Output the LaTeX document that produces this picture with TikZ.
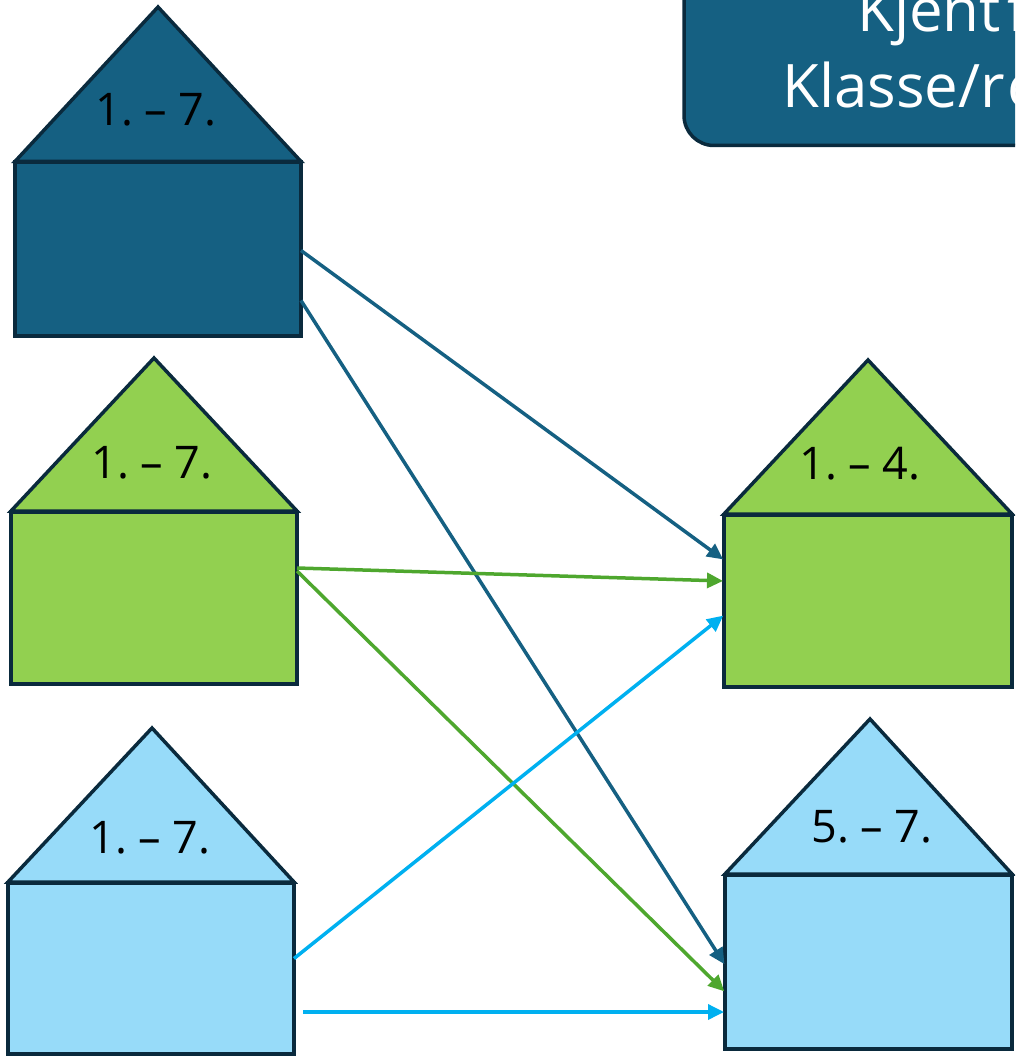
\documentclass[tikz,border=0pt]{standalone}
\usepackage{fontspec}
\setmainfont{Open Sans}
\usetikzlibrary{positioning, arrows.meta}
\definecolor{darkhouse}{HTML}{156082}
\definecolor{greenhouse}{HTML}{92D050}
\definecolor{lighthouse}{HTML}{97DBF9}
\definecolor{houseline}{HTML}{0A2A3D}
\definecolor{greenline}{HTML}{4EA72E}
\definecolor{lightline}{HTML}{00B0F0}
\newcommand{\yeargap}{\hspace{11.5pt}}
\tikzset{
	body/.style={draw=houseline, rectangle, line width=4pt, minimum width=#1, outer sep=0pt, inner sep=0pt},
	roof/.style={draw=houseline, line width=3.5pt, line join=miter},
	years/.style={font=\fontsize{45}{45}\selectfont, text=black, inner sep=0pt},
	heading/.style={font=\fontsize{60}{60}\selectfont, text=white, anchor=base west, inner sep=0pt},
	link/.style={line width=3.5pt, -{Triangle[length=16pt, width=15pt]}, shorten >=1pt}
}
\begin{document}
\begin{tikzpicture}[x=1pt, y=-1pt]
		\clip[use as bounding box] (0,0) rectangle (1015,1056);
		%header
		\node[draw=houseline, rectangle, line width=3.5pt, rounded corners=30pt, fill=darkhouse, minimum width=500pt, minimum height=250pt, anchor=south west, outer sep=0pt] (header) at (684,145.5) {};
		\node[heading] (line1) at (857,32) {Kjent\hspace{7pt}f};
		\node[heading] (line2) at (782,108) {Klasse/r\kern3pt e};
		%houses
		\node[body=286pt, minimum height=173pt, fill=darkhouse] (dark) at (158,249) {};
		\node[body=286pt, minimum height=172pt, fill=greenhouse] (green) at (154,598) {};
		\node[body=286pt, minimum height=171pt, fill=lighthouse] (light) at (151,968.5) {};
		\node[body=288pt, minimum height=172pt, fill=greenhouse] (greenR) at (868,601) {};
		\node[body=287pt, minimum height=174pt, fill=lighthouse] (lightR) at (868.5,962) {};
		\coordinate (darkTop) at (158,7);
		\coordinate (greenTop) at (154,358);
		\coordinate (lightTop) at (152,728);
		\coordinate (greenRTop) at (868,360);
		\coordinate (lightRTop) at (870,719);
		\draw[roof, fill=darkhouse] ([yshift=1pt]dark.north west) -- (darkTop) -- ([yshift=1pt]dark.north east) -- cycle;
		\draw[roof, fill=greenhouse] ([yshift=1pt]green.north west) -- (greenTop) -- ([yshift=1pt]green.north east) -- cycle;
		\draw[roof, fill=lighthouse] ([yshift=1pt]light.north west) -- (lightTop) -- ([yshift=1pt]light.north east) -- cycle;
		\draw[roof, fill=greenhouse] ([yshift=1pt]greenR.north west) -- (greenRTop) -- ([yshift=1pt]greenR.north east) -- cycle;
		\draw[roof, fill=lighthouse] ([yshift=1pt]lightR.north west) -- (lightRTop) -- ([yshift=1pt]lightR.north east) -- cycle;
		\node[years] (darkYears) at (156,109.5) {1.\yeargap–\yeargap7.};
		\node[years] (greenYears) at (152,462.5) {1.\yeargap–\yeargap7.};
		\node[years] (lightYears) at (150,837.5) {1.\yeargap–\yeargap7.};
		\node[years] (greenRYears) at (860,463.5) {1.\yeargap–\yeargap4.};
		\node[years] (lightRYears) at (872,826.5) {5.\yeargap–\yeargap7.};
		%arrows
		\draw[link, darkhouse] ([yshift=-1.5pt]dark.east) -- ([yshift=41pt]greenR.west);
		\draw[link, darkhouse] ([yshift=-51.5pt]dark.east) -- ([yshift=-3pt]lightR.west);
		\draw[link, greenline] ([yshift=30pt]green.east) -- ([yshift=20pt]greenR.west);
		\draw[link, greenline] ([yshift=27pt]green.east) -- ([yshift=-30pt]lightR.west);
		\draw[link, lightline] ([yshift=10pt]light.east) -- ([yshift=-14pt]greenR.west);
		\draw[link, lightline] ([xshift=9pt, yshift=-43.5pt]light.east) -- ([yshift=-50pt]lightR.west);
\end{tikzpicture}
\end{document}
